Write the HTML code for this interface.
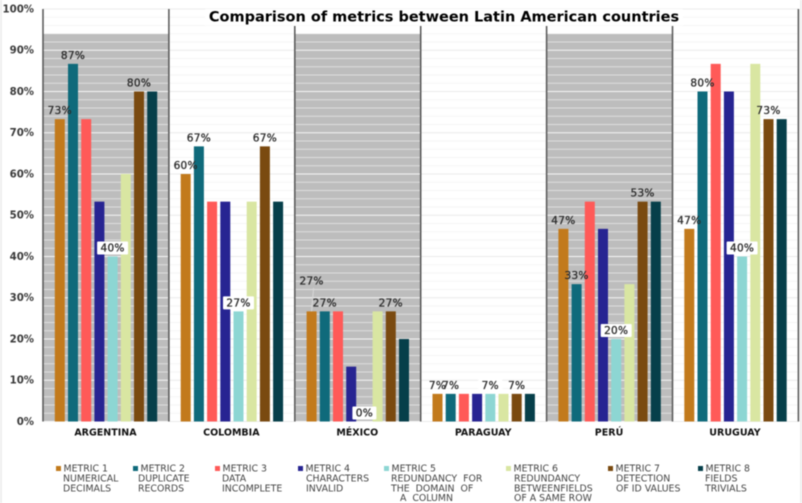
<!DOCTYPE html>
<html>
<head>
<meta charset="utf-8">
<title>Comparison of metrics between Latin American countries</title>
<style>
html,body{margin:0;padding:0;background:#fff;width:802px;height:503px;overflow:hidden}
svg{display:block;filter:blur(0.45px)}
text{font-family:"DejaVu Sans","Liberation Sans",sans-serif}
</style>
</head>
<body>
<svg id="chart" width="802" height="503" viewBox="0 0 802 503" xmlns="http://www.w3.org/2000/svg"></svg>
<script>
const countries = ['ARGENTINA','COLOMBIA','MÉXICO','PARAGUAY','PERÚ','URUGUAY'];
const metric1 = [73.3,60,26.7,6.7,46.7,46.7];
const metric2 = [86.7,66.7,26.7,6.7,33.3,80];
const metric3 = [73.3,53.3,26.7,6.7,53.3,86.7];
const metric4 = [53.3,53.3,13.3,6.7,46.7,80];
const metric5 = [40,26.7,0,6.7,20,40];
const metric6 = [60,53.3,26.7,6.7,33.3,86.7];
const metric7 = [80,66.7,26.7,6.7,53.3,73.3];
const metric8 = [80,53.3,20,6.7,53.3,73.3];
const yTicks = [0,10,20,30,40,50,60,70,80,90,100];
const labelledMetrics = [0,1,4,6];
const metricColors = ['#c27a1c','#0f6a7b','#ff5a58','#272492','#8dd6d3','#d9e6a2','#7a4a10','#063f4a'];
const legendTitles = ['METRIC 1','METRIC 2','METRIC 3','METRIC 4','METRIC 5','METRIC 6','METRIC 7','METRIC 8'];
const legendDetails = [
  ['NUMERICAL','DECIMALS'],
  ['DUPLICATE','RECORDS'],
  ['DATA','INCOMPLETE'],
  ['CHARACTERS','INVALID'],
  ['REDUNDANCY  FOR','THE  DOMAIN  OF','   A  COLUMN'],
  ['REDUNDANCY','BETWEENFIELDS','OF A SAME ROW'],
  ['DETECTION','OF ID VALUES'],
  ['FIELDS','TRIVIALS']
];
const series = [metric1,metric2,metric3,metric4,metric5,metric6,metric7,metric8];

const svg = document.getElementById('chart');
const NS = 'http://www.w3.org/2000/svg';
const plotLeft = 43, groupW = 125.9, y0 = 421.5, pxPerPct = 4.125;
const barW = 10, barStep = 13.2, barOffset = 11.8;
const yScale = v => y0 - v * pxPerPct;
const groupX = i => plotLeft + i * groupW;
const barX = (g, m) => groupX(g) + barOffset + m * barStep;

function make(tag, attrs, parent){
  const el = document.createElementNS(NS, tag);
  for (const k in attrs) el.setAttribute(k, attrs[k]);
  (parent || svg).appendChild(el);
  return el;
}

// page edges
const edgeL = make('rect',{x:0,y:0,width:2,height:503,fill:'#eeeeee'});


const edgeR = make('rect',{x:800,y:0,width:2,height:503,fill:'#eeeeee'});



// faint grid for white bands
for (let p = 0; p <= 100; p += 2) {
  const major = p % 10 === 0;
  const g = make('line',{x1:plotLeft,x2:plotLeft+6*groupW,y1:yScale(p),y2:yScale(p),stroke:major?'#ebebeb':'#f6f6f6','stroke-width':1});
  
  
}

// alternating grey bands with white stripes
countries.forEach((c, i) => {
  if (i % 2) return;
  const b = make('rect',{x:groupX(i)+0.5,y:34,width:groupW-1,height:y0-34,fill:'#bdbdbd'});
  
  
  for (let p = 0; p <= 92; p += 2) {
    const major = p % 10 === 0;
    const s = make('line',{x1:groupX(i)+0.5,x2:groupX(i)+groupW-0.5,y1:yScale(p),y2:yScale(p),stroke:major?'#f6f6f6':'#dedede','stroke-width':1});
    
    
  }
});

// bars
countries.forEach((c, g) => {
  series.forEach((vals, m) => {
    const v = vals[g];
    const r = make('rect',{x:barX(g,m),y:yScale(v),width:barW,height:y0-yScale(v),fill:metricColors[m]});
    
    
  });
});

// separators
for (let i = 0; i <= 6; i++) {
  const top = (i === 0 || i === 1 || i === 6) ? 9 : 26;
  const l = make('line',{x1:groupX(i),x2:groupX(i),y1:top,y2:y0,stroke:'#555555','stroke-width':1.5});
  
  
}

// y axis ticks
yTicks.forEach(t => {
  const e = make('text',{x:34,y:yScale(t)+3.4,'text-anchor':'end','font-size':10.2,'font-weight':'bold',fill:'#3a3a3a'});
  e.textContent = t + '%';
  
  
});

// category labels
countries.forEach((c, i) => {
  const e = make('text',{x:groupX(i)+groupW/2-0.5,y:435.5,'text-anchor':'middle','font-size':9.5,'font-weight':'bold',fill:'#111'});
  e.textContent = c;
  
  
});

// data labels
countries.forEach((c, g) => {
  labelledMetrics.forEach(m => {
    const v = series[m][g];
    const cx = barX(g,m) + barW/2;
    const boxed = m === 4;
    const raised = (g === 2 && m === 0);
    const shown = Math.round(v) + '%';
    let cy = yScale(v) - 8.5;
    if (raised) {
      cy -= 22;
      const lead = make('line',{x1:cx+2,y1:cy+7,x2:cx,y2:yScale(v),stroke:'#d8d8d8','stroke-width':1});
      
      
    }
    if (boxed) {
      const boxW = shown.length > 2 ? 31 : 24;
      const bg = make('rect',{x:cx-boxW/2,y:cy-6.5,width:boxW,height:13,fill:'#ffffff',rx:1});
      
      
    }
    const tx = make('text',{x:cx,y:cy+3.5,'text-anchor':'middle','font-size':10.5,'letter-spacing':0.3,fill:'#2b2b2b',stroke:'#2b2b2b','stroke-width':0.3});
    tx.textContent = shown;
    
    
  });
});

// title
const titleBg = make('rect',{x:205,y:9,width:478,height:16.5,fill:'#ffffff'});


const title = make('text',{x:444,y:21.5,'text-anchor':'middle','font-size':14.5,'font-weight':'bold',fill:'#000'});
title.textContent = 'Comparison of metrics between Latin American countries';



// legend
const legendMarkerX = m => [56,133,215,298,384,506,608,698][m];
const legendDetailX = m => [63,138,222,306,391,514,616,705][m];
legendTitles.forEach((t, m) => {
  const mx = legendMarkerX(m);
  const sw = make('rect',{x:mx,y:466,width:5,height:5,fill:metricColors[m]});
  
  
  const tx = make('text',{x:mx+7.5,y:471.5,'font-size':9.4,fill:'#444'});
  tx.textContent = t;
  
  
  legendDetails[m].forEach((line, j) => {
    const d = make('text',{x:legendDetailX(m),y:481.5+j*9.8,'font-size':9.4,fill:'#444','xml:space':'preserve'});
    d.style.whiteSpace = 'pre';
    d.textContent = line;
    
    
  });
});
</script>
</body>
</html>
